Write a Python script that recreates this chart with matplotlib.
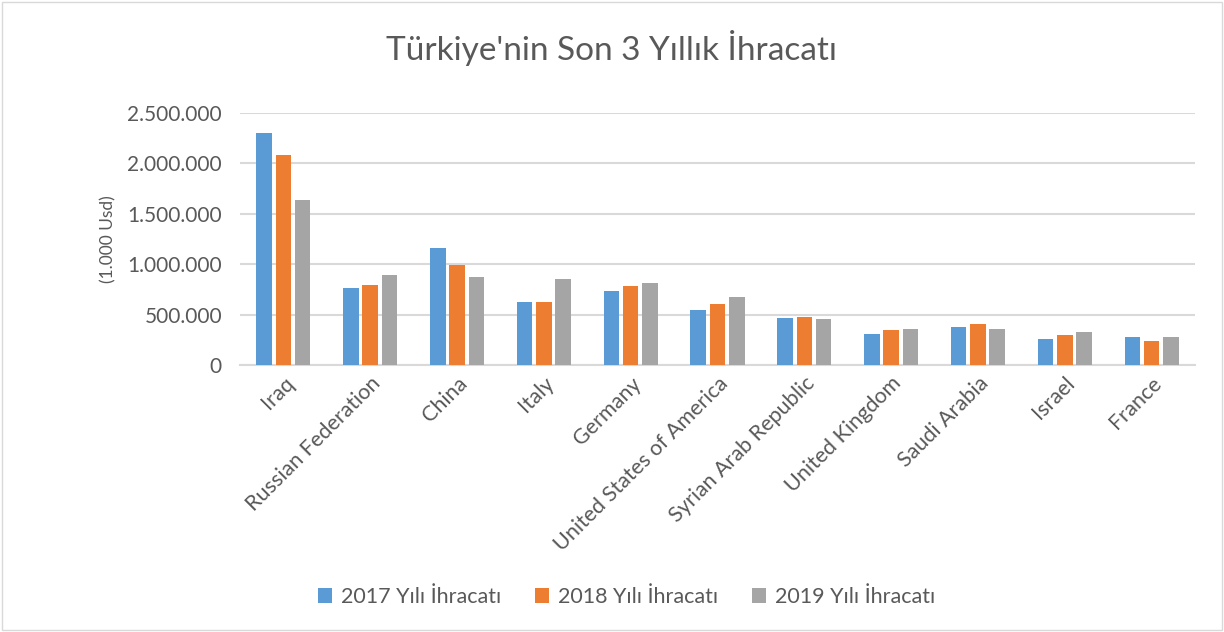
import matplotlib
matplotlib.use("Agg")
import matplotlib.pyplot as plt
import numpy as np
from matplotlib.ticker import FuncFormatter
from matplotlib.patches import Rectangle

countries = ["Iraq", "Russian Federation", "China", "Italy", "Germany",
             "United States of America", "Syrian Arab Republic", "United Kingdom",
             "Saudi Arabia", "Israel", "France"]
exports_2017 = [2302000, 760000, 1162000, 627000, 733000, 545000, 470000, 311000, 374000, 255000, 275000]
exports_2018 = [2080000, 793000, 991000, 621000, 786000, 604000, 477000, 344000, 407000, 298000, 242000]
exports_2019 = [1638000, 888000, 869000, 849000, 812000, 677000, 454000, 361000, 358000, 331000, 275000]
series_labels = ["2017 Yılı İhracatı", "2018 Yılı İhracatı", "2019 Yılı İhracatı"]
colors = ["#5B9BD5", "#ED7D31", "#A5A5A5"]

plt.rcParams['font.family'] = ['Lato', 'DejaVu Sans']
txt = "#595959"

fig = plt.figure(figsize=(12.24, 6.32), dpi=100)
fig.patches.append(Rectangle((0.002, 0.003), 0.996, 0.994, transform=fig.transFigure,
                             fill=False, edgecolor="#d9d9d9", linewidth=1))
ax = fig.add_axes([240/1224, 1-365/632, (1195-240)/1224, (365-113)/632])

x = np.arange(len(countries))
off = 0.222
w = 0.18
for i, (vals, lab, c) in enumerate(zip([exports_2017, exports_2018, exports_2019], series_labels, colors)):
    ax.bar(x + (i-1)*off, vals, width=w, color=c, label=lab, zorder=3)

ax.set_xlim(-0.5, len(countries)-0.5)
ax.set_ylim(0, 2500000)
ax.set_yticks(np.arange(0, 2500001, 500000))
ax.yaxis.set_major_formatter(FuncFormatter(lambda v, p: f"{int(v):,}".replace(",", ".")))
ax.grid(axis='y', color="#d9d9d9", linewidth=1.5, zorder=0)
for s in ["top", "right", "left"]:
    ax.spines[s].set_visible(False)
ax.spines["bottom"].set_color("#d9d9d9")
ax.spines["bottom"].set_linewidth(1.5)
ax.tick_params(axis='both', length=0, colors=txt, labelsize=15.5)
ax.tick_params(axis='y', pad=13, labelsize=15)
ax.tick_params(axis='x', pad=6)
ax.set_xticks(x)
ax.set_xticklabels(countries, rotation=45, ha='right', rotation_mode='anchor', color=txt, fontsize=15.5)
ax.set_ylabel("(1.000 Usd)", color=txt, fontsize=12.5, labelpad=8)

fig.text(0.5, 1-48/632, "Türkiye'nin Son 3 Yıllık İhracatı", ha='center', va='center',
         fontsize=24, color=txt)

leg = fig.legend(loc='center', bbox_to_anchor=(0.512, 1-597/632), ncol=3, frameon=False,
                 fontsize=15.5, handlelength=0.65, handleheight=0.65, columnspacing=1.6,
                 handletextpad=0.4)
for t in leg.get_texts():
    t.set_color(txt)

fig.savefig("out.png", dpi=100)
